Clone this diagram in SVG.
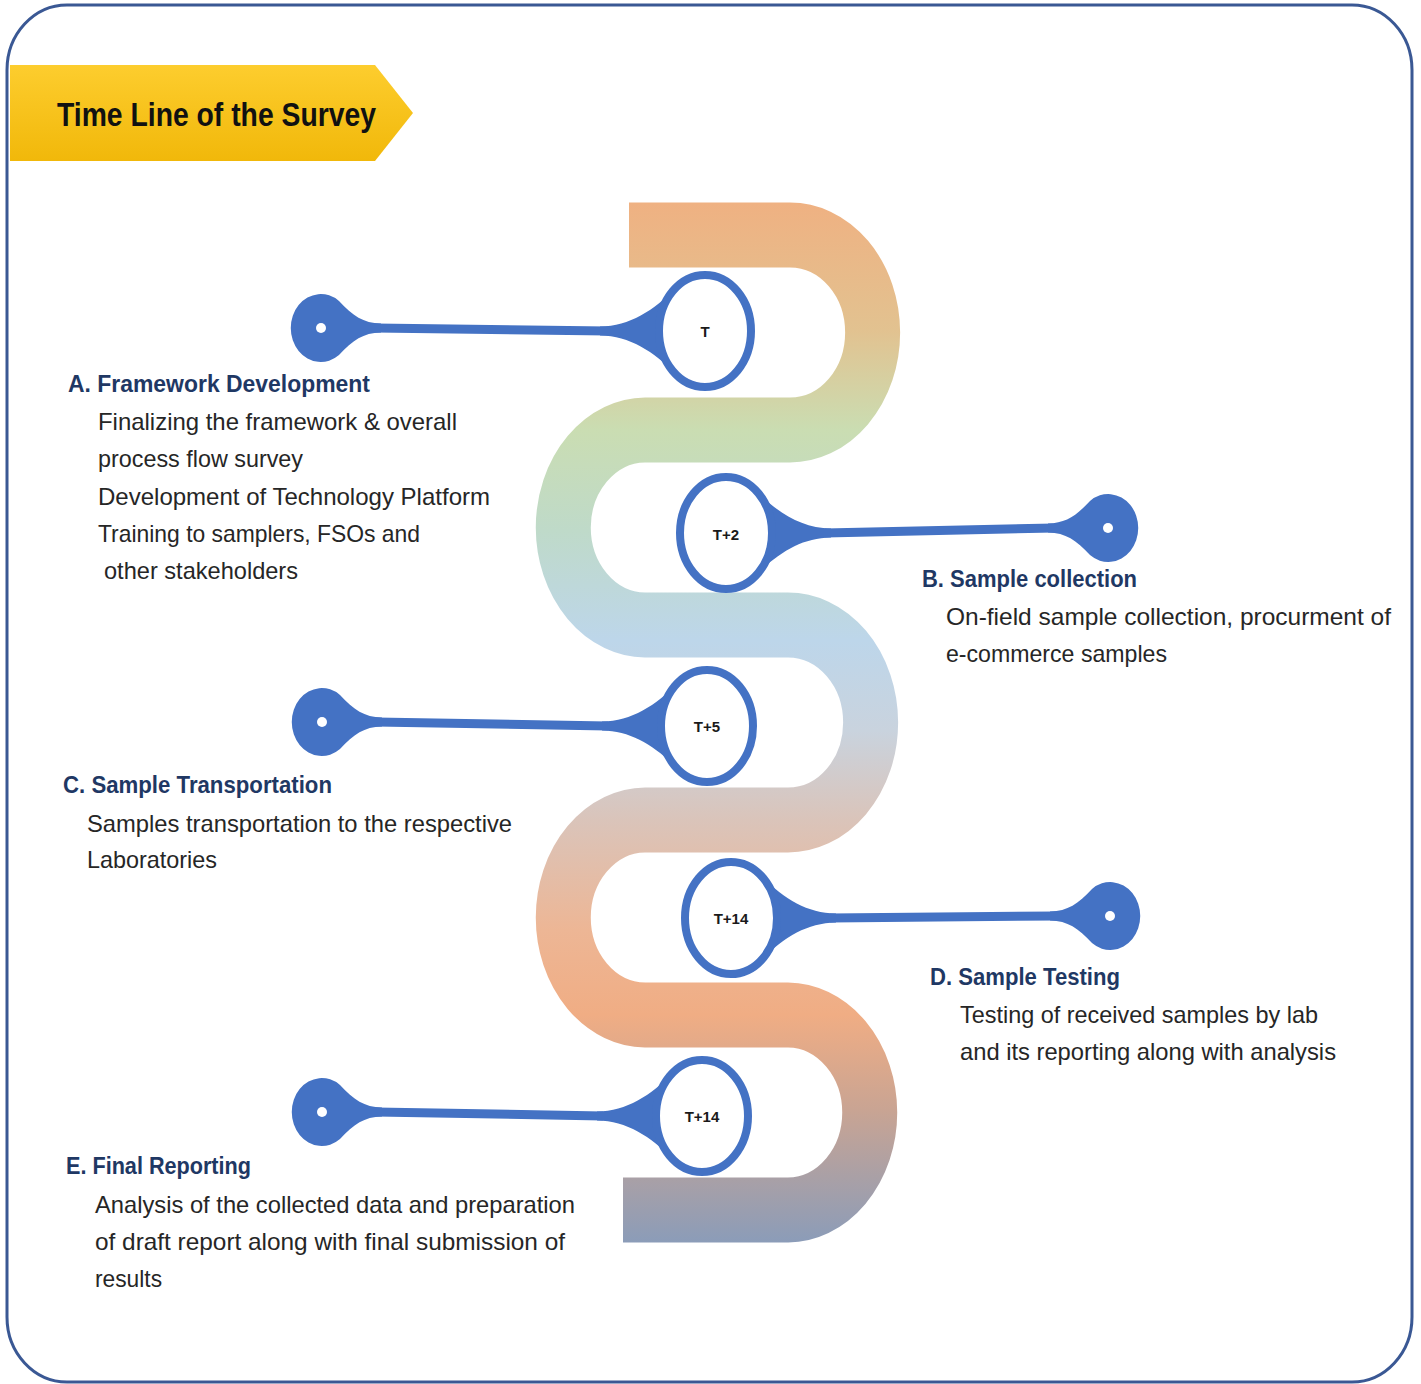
<svg xmlns="http://www.w3.org/2000/svg" xmlns:xlink="http://www.w3.org/1999/xlink" width="1421" height="1384" viewBox="0 0 1421 1384">
<style>
.hd{font-family:"Liberation Sans",Arial,sans-serif;font-weight:bold;font-size:24px;fill:#1F3864}
.bd{font-family:"Liberation Sans",Arial,sans-serif;font-size:24px;fill:#262626}
.tl{font-family:"Liberation Sans",Arial,sans-serif;font-weight:bold;font-size:15px;fill:#1a1a1a;text-anchor:middle}
.ttl{font-family:"Liberation Sans",Arial,sans-serif;font-weight:bold;font-size:34px;fill:#111}
.blue{fill:#4472C4}
.ring{fill:#fff;stroke:#4472C4;stroke-width:8}
.conn{stroke:#4472C4;stroke-width:9;fill:none}
</style>
<defs>
<linearGradient id="snakeGrad" gradientUnits="userSpaceOnUse" x1="0" y1="172" x2="0" y2="1055">
<stop offset="0" stop-color="#EFB182"/>
<stop offset="0.122" stop-color="#E2C290"/>
<stop offset="0.218" stop-color="#CADDB2"/>
<stop offset="0.314" stop-color="#BFDAC9"/>
<stop offset="0.42" stop-color="#BDD6EA"/>
<stop offset="0.506" stop-color="#C9D3DE"/>
<stop offset="0.592" stop-color="#DAC4BA"/>
<stop offset="0.698" stop-color="#EDB695"/>
<stop offset="0.779" stop-color="#F0AD84"/>
<stop offset="0.87" stop-color="#C9A493"/>
<stop offset="1" stop-color="#8A9CB9"/>
</linearGradient>
<linearGradient id="bannerGrad" x1="0" y1="0" x2="0" y2="1">
<stop offset="0" stop-color="#FDCD2E"/>
<stop offset="1" stop-color="#F1B80A"/>
</linearGradient>
<path id="flare" class="blue" d="M -28 -44 C -52 -20 -75 -5 -105 -4.5 L -105 4.5 C -75 5 -52 20 -28 44 A 46 56 0 0 1 -28 -44 Z"/>
<g id="ringL">
<use xlink:href="#flare" href="#flare"/>
<ellipse class="ring" cx="0" cy="0" rx="46" ry="56"/>
</g>
<g id="knob">
<path class="blue" d="M 18 -27 C 32 -12 42 -5 60 -4.5 L 60 4.5 C 42 5 32 12 18 27 A 30 34 0 1 1 18 -27 Z"/>
<circle cx="0" cy="0" r="5" fill="#fff"/>
</g>
</defs>

<rect width="1421" height="1384" fill="#fff"/>

<g id="frame">
<path d="M 67 5 H 1352 A 60 65 0 0 1 1412 70 V 1317 A 60 65 0 0 1 1352 1382 H 67 A 60 65 0 0 1 7 1317 V 70 A 60 65 0 0 1 67 5 Z" fill="none" stroke="#3A5894" stroke-width="3"/>
</g>

<g id="title">
<polygon points="10,65 375,65 413,113 375,161 10,161" fill="url(#bannerGrad)"/>
<text class="ttl" x="57" y="126" textLength="319" lengthAdjust="spacingAndGlyphs">Time Line of the Survey</text>
</g>

<g id="snake">
<path transform="scale(1,1.18)" d="M 629 199.15 H 790 A 82.63 82.63 0 0 1 790 364.41 H 645 A 82.63 82.63 0 0 0 645 529.66 H 788 A 82.63 82.63 0 0 1 788 694.92 H 645 A 82.63 82.63 0 0 0 645 860.17 H 788 A 82.63 82.63 0 0 1 788 1025.42 H 623" fill="none" stroke="url(#snakeGrad)" stroke-width="55" stroke-linecap="butt"/>
</g>

<g id="connectors">
<path class="conn" d="M 375 328 L 608 331"/>
<path class="conn" d="M 825 533 L 1054 528"/>
<path class="conn" d="M 376 722 L 608 726"/>
<path class="conn" d="M 830 918 L 1056 916"/>
<path class="conn" d="M 376 1112 L 603 1116"/>
</g>

<g id="nodeA">
<use xlink:href="#ringL" href="#ringL" transform="translate(705,331)"/>
<use xlink:href="#knob" href="#knob" transform="translate(321,328)"/>
<text class="tl" x="705" y="337">T</text>
<text class="hd" x="68" y="392" textLength="302" lengthAdjust="spacingAndGlyphs">A. Framework Development</text>
<text class="bd" x="98" y="430" textLength="359" lengthAdjust="spacingAndGlyphs">Finalizing the framework &amp; overall</text>
<text class="bd" x="98" y="467" textLength="205" lengthAdjust="spacingAndGlyphs">process flow survey</text>
<text class="bd" x="98" y="505" textLength="392" lengthAdjust="spacingAndGlyphs">Development  of Technology Platform</text>
<text class="bd" x="98" y="542" textLength="322" lengthAdjust="spacingAndGlyphs">Training  to samplers, FSOs  and</text>
<text class="bd" x="104" y="579" textLength="194" lengthAdjust="spacingAndGlyphs">other stakeholders</text>
</g>

<g id="nodeB">
<use xlink:href="#ringL" href="#ringL" transform="translate(726,533) scale(-1,1)"/>
<use xlink:href="#knob" href="#knob" transform="translate(1108,528) scale(-1,1)"/>
<text class="tl" x="726" y="540">T+2</text>
<text class="hd" x="922" y="587" textLength="215" lengthAdjust="spacingAndGlyphs">B. Sample collection</text>
<text class="bd" x="946" y="625" textLength="445" lengthAdjust="spacingAndGlyphs">On-field sample collection,  procurment  of</text>
<text class="bd" x="946" y="662" textLength="221" lengthAdjust="spacingAndGlyphs">e-commerce samples</text>
</g>

<g id="nodeC">
<use xlink:href="#ringL" href="#ringL" transform="translate(707,726)"/>
<use xlink:href="#knob" href="#knob" transform="translate(322,722)"/>
<text class="tl" x="707" y="732">T+5</text>
<text class="hd" x="63" y="793" textLength="269" lengthAdjust="spacingAndGlyphs">C. Sample Transportation</text>
<text class="bd" x="87" y="832" textLength="425" lengthAdjust="spacingAndGlyphs">Samples transportation to the respective</text>
<text class="bd" x="87" y="868" textLength="130" lengthAdjust="spacingAndGlyphs">Laboratories</text>
</g>

<g id="nodeD">
<use xlink:href="#ringL" href="#ringL" transform="translate(731,918) scale(-1,1)"/>
<use xlink:href="#knob" href="#knob" transform="translate(1110,916) scale(-1,1)"/>
<text class="tl" x="731" y="924">T+14</text>
<text class="hd" x="930" y="985" textLength="190" lengthAdjust="spacingAndGlyphs">D. Sample Testing</text>
<text class="bd" x="960" y="1023" textLength="358" lengthAdjust="spacingAndGlyphs">Testing of received  samples by lab</text>
<text class="bd" x="960" y="1060" textLength="376" lengthAdjust="spacingAndGlyphs">and its reporting  along with analysis</text>
</g>

<g id="nodeE">
<use xlink:href="#ringL" href="#ringL" transform="translate(702,1116)"/>
<use xlink:href="#knob" href="#knob" transform="translate(322,1112)"/>
<text class="tl" x="702" y="1122">T+14</text>
<text class="hd" x="66" y="1174" textLength="185" lengthAdjust="spacingAndGlyphs">E. Final Reporting</text>
<text class="bd" x="95" y="1213" textLength="480" lengthAdjust="spacingAndGlyphs">Analysis  of the collected data and preparation</text>
<text class="bd" x="95" y="1250" textLength="470" lengthAdjust="spacingAndGlyphs">of draft report along with  final submission  of</text>
<text class="bd" x="95" y="1287" textLength="67" lengthAdjust="spacingAndGlyphs">results</text>
</g>
</svg>
